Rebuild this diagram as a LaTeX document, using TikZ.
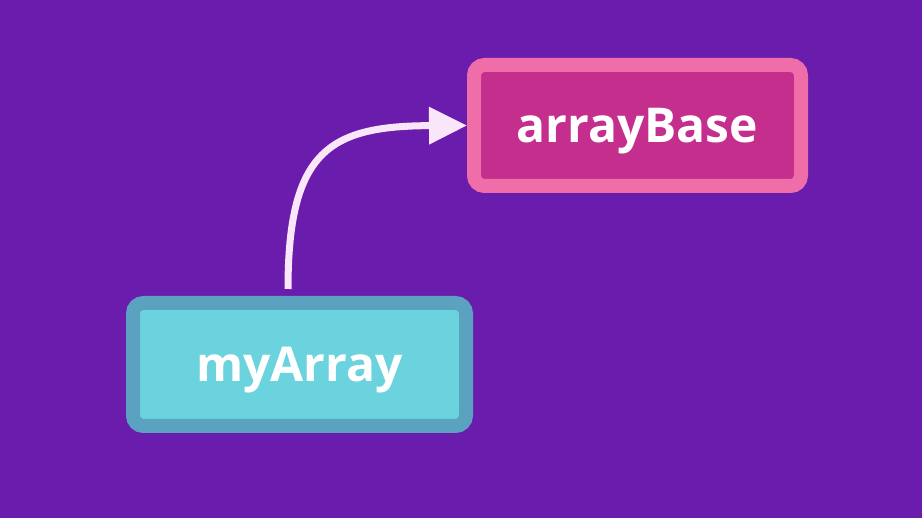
\documentclass[tikz,border=0pt]{standalone}
\usepackage{fontspec}
\setmainfont{Open Sans}
\usetikzlibrary{arrows.meta}
\definecolor{bgpurple}{HTML}{6A1CAC}
\definecolor{pinkborder}{HTML}{EF6DA8}
\definecolor{pinkfill}{HTML}{C42F8E}
\definecolor{tealborder}{HTML}{5BA2C0}
\definecolor{tealfill}{HTML}{6BD3DE}
\definecolor{arrowcol}{HTML}{F9E6F9}
\tikzset{
  varbox/.style={line width=14pt, rounded corners=10.5pt, minimum width=327pt, minimum height=121pt,
    text=white, font=\fontsize{48}{54}\selectfont\bfseries, inner sep=0pt,
    text height=34pt, text depth=0pt},
  linkarrow/.style={draw=arrowcol, line width=7pt, -{Triangle[length=38pt,width=36pt]}}
}
\begin{document}
\begin{tikzpicture}[x=1pt,y=-1pt]
\fill[bgpurple] (0,0) rectangle (922,518);
\useasboundingbox (0,0) rectangle (922,518);
\node[varbox, draw=pinkborder, fill=pinkfill] (arrayBase) at (637.5,125.5) {arrayBase};
\node[varbox, draw=tealborder, fill=tealfill, minimum width=333pt, minimum height=123pt] (myArray) at (299.5,364.5) {myArray};
\draw[linkarrow] ([xshift=-11.5pt,yshift=7pt]myArray.north) .. controls (288,150) and (330,126) .. (arrayBase.west);
\end{tikzpicture}
\end{document}
